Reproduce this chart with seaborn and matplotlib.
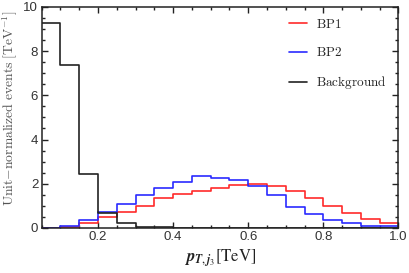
import numpy as np
import pandas as pd
import seaborn as sns
import matplotlib.pyplot as plt
from matplotlib.ticker import MultipleLocator

# bins of 0.05 TeV from 0.05 to 1.0
bin_width = 0.05
bin_range = (0.05, 1.0)
centers = np.round(np.arange(0.075, 1.0, 0.05), 3)

bp1 = [0.0, 0.05, 0.24, 0.51, 0.74, 1.00, 1.35, 1.53, 1.68, 1.80,
       1.95, 2.00, 1.88, 1.65, 1.35, 1.00, 0.67, 0.40, 0.24]
bp2 = [0.0, 0.10, 0.36, 0.70, 1.09, 1.47, 1.82, 2.06, 2.33, 2.26,
       2.18, 1.88, 1.50, 0.94, 0.64, 0.35, 0.21, 0.10, 0.08]
background = [9.27, 7.36, 2.42, 0.66, 0.22, 0.05, 0.03, 0.02, 0.01, 0.0,
              0.0, 0.0, 0.0, 0.0, 0.0, 0.0, 0.0, 0.0, 0.0]

samples = ["BP1", "BP2", "Background"]
colors = {"BP1": "#ff2a2a", "BP2": "#2a2aff", "Background": "#222222"}

df = pd.DataFrame({
    "pt": np.tile(centers, 3),
    "w": bp1 + bp2 + background,
    "sample": np.repeat(samples, len(centers)),
})

sns.set_style("ticks")
plt.rcParams["font.family"] = ["Liberation Sans", "DejaVu Sans"]
plt.rcParams["mathtext.fontset"] = "cm"

fig = plt.figure(figsize=(4.09, 2.73), dpi=100)
ax = fig.add_axes([0.102, 0.165, 0.872, 0.81])

for s in samples:
    sub = df[df["sample"] == s]
    sns.histplot(data=sub, x="pt", weights="w", binwidth=bin_width,
                 binrange=bin_range, element="step", fill=False,
                 color=colors[s], lw=1.2, ax=ax, label=s)

ax.set_xlim(0.05, 1.0)
ax.set_ylim(0, 10)
ax.xaxis.set_major_locator(MultipleLocator(0.2))
ax.xaxis.set_minor_locator(MultipleLocator(0.05))
ax.yaxis.set_major_locator(MultipleLocator(2))
ax.yaxis.set_minor_locator(MultipleLocator(0.5))
ax.xaxis.set_major_formatter(lambda v, p: f"{v:.1f}")
ax.yaxis.set_major_formatter(lambda v, p: f"{v:.0f}")
ax.tick_params(which="both", direction="in", top=True, right=True,
               labelsize=9.5, width=1.0, colors="#222222", labelcolor="#333333",
               pad=2.5)
ax.tick_params(which="major", length=4)
ax.tick_params(which="minor", length=2.5)
for sp in ax.spines.values():
    sp.set_linewidth(1.1)
    sp.set_color("#222222")

yl = ax.set_ylabel(r"$\mathrm{Unit{-}normalized\ events\ [TeV^{-1}]}$",
                   fontsize=9.8, color="#555555", labelpad=3)
ax.yaxis.set_label_coords(-0.062, 0.54)
xl = ax.set_xlabel(r"$\mathbfit{p}_{\mathbfit{T},\mathbfit{j}_3}\mathrm{[TeV]}$",
                   fontsize=12, color="#222222", labelpad=3)
xl.set_math_fontfamily("stix")

lines = [plt.Line2D([], [], color=colors[s], lw=1.2) for s in samples]
leg = ax.legend(lines, [r"$\mathrm{%s}$" % s for s in samples],
                loc="upper right", frameon=False, fontsize=9.5,
                handlelength=1.4, handletextpad=0.7, labelspacing=1.15,
                borderaxespad=0.45)

plt.savefig("out.png", dpi=100)
